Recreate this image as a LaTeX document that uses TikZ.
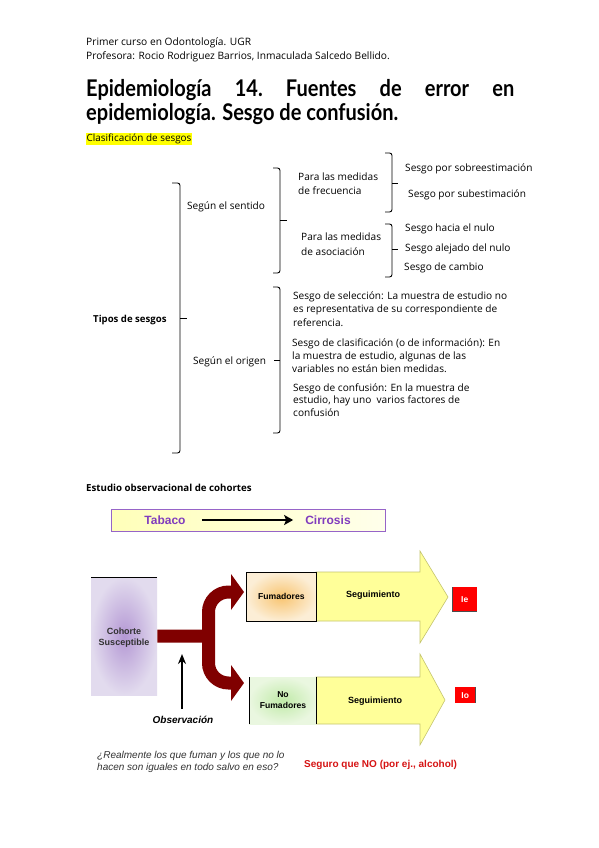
\documentclass[tikz,border=0pt]{standalone}
\usepackage{fontspec}
\usepackage{graphicx}
\setmainfont{Open Sans}
\newfontfamily\titlef{Lato}
\newfontfamily\arialf{Liberation Sans}
\usetikzlibrary{arrows.meta}
\definecolor{maroonb}{RGB}{128,0,0}
\definecolor{purpt}{RGB}{128,60,190}
\definecolor{purpb}{RGB}{150,100,200}
\definecolor{cohin}{RGB}{180,152,212}
\definecolor{cohout}{RGB}{226,219,238}
\definecolor{fumin}{RGB}{248,196,112}
\definecolor{fumout}{RGB}{252,238,214}
\definecolor{nfin}{RGB}{192,234,168}
\definecolor{nfout}{RGB}{234,247,224}
\definecolor{segfill}{RGB}{255,255,153}
\definecolor{segdraw}{RGB}{196,196,110}
\definecolor{redbox}{RGB}{255,0,0}
\definecolor{redtxt}{RGB}{214,20,20}
\definecolor{hl}{RGB}{255,255,0}
\definecolor{qgray}{RGB}{50,50,50}
\newsavebox\titleB
\newlength\tlen
\begin{document}
\sbox\titleB{\titlef\fontsize{23}{26}\selectfont\bfseries epidemiología. Sesgo de confusión.}%
\settowidth\tlen{\usebox\titleB}%
\pgfmathsetmacro\tsx{312pt/\tlen}%
\pgfmathsetlengthmacro\lone{428pt/\tsx}%
\begin{tikzpicture}[x=1pt,y=-1pt,
  txt/.style={anchor=base west, inner sep=0pt, font=\fontsize{10.1}{12}\selectfont},
  hdr/.style={anchor=base west, inner sep=0pt, font=\fontsize{10.2}{12}\selectfont},
  brace/.style={line width=0.9pt, rounded corners=2.5pt},
  ar/.style={font=\arialf\bfseries\fontsize{9}{11}\selectfont, align=center, inner sep=0pt},
  branch/.style={draw=maroonb, line width=13pt},
  segarrow/.style={fill=segfill, draw=segdraw, line width=0.6pt},
  redb/.style={fill=redbox, inner sep=0pt, text=white, font=\arialf\bfseries\fontsize{8.5}{9}\selectfont}]
\useasboundingbox (0,0) rectangle (599,848);
\fill[white] (0,0) rectangle (599,848);
% ---------- header ----------
\node[hdr] (h1) at (86,46) {Primer curso en Odontología. UGR};
\node[hdr] (h2) at (86,60) {Profesora: Rocio Rodriguez Barrios, Inmaculada Salcedo Bellido.};
% ---------- title ----------
\node[anchor=base west, inner sep=0pt] (ti1) at (86,97) {\scalebox{\tsx}[1]{\hbox to \lone{\titlef\fontsize{23}{26}\selectfont\bfseries Epidemiología\hfill 14.\hfill Fuentes\hfill de\hfill error\hfill en}}};
\node[anchor=base west, inner sep=0pt] (ti2) at (86,121) {\scalebox{\tsx}[1]{\usebox\titleB}};
% ---------- classification ----------
\node[anchor=west, fill=hl, inner xsep=0.5pt, inner ysep=0.8pt, text height=8pt, text depth=2.5pt, font=\fontsize{9.9}{11}\selectfont] (clas) at (86,139) {Clasificación de sesgos};
% braces
\draw[brace] (172,183) -| (180,453) -- (172,453);
\draw[line width=0.9pt] (180,318) -- (187,318);
\draw[brace] (273,168) -| (280,273) -- (273,273);
\draw[line width=0.9pt] (280,220) -- (287,220);
\draw[brace] (385,153) -| (392,212) -- (385,212);
\draw[line width=0.9pt] (392,183) -- (398,183);
\draw[brace] (385,224) -| (392,277) -- (385,277);
\draw[line width=0.9pt] (392,249) -- (398,249);
\draw[brace] (273,287) -| (280,433) -- (273,433);
\draw[line width=0.9pt] (280,360) -- (274,360);
% texts
\node[txt, font=\bfseries\fontsize{9.6}{12}\selectfont] (tipos) at (93,322) {Tipos de sesgos};
\node[txt] (sent) at (187,209) {Según el sentido};
\node[txt] (orig) at (193,364) {Según el origen};
\node[txt] (pf1) at (298,180) {Para las medidas};
\node[txt] (pf2) at (298,194) {de frecuencia};
\node[txt] (pa1) at (301,240) {Para las medidas};
\node[txt] (pa2) at (301,255) {de asociación};
\node[txt] (s1) at (405,171) {Sesgo por sobreestimación};
\node[txt] (s2) at (408,197) {Sesgo por subestimación};
\node[txt] (s3) at (405,231) {Sesgo hacia el nulo};
\node[txt] (s4) at (405,251) {Sesgo alejado del nulo};
\node[txt] (s5) at (404,270) {Sesgo de cambio};
\node[txt] (o1) at (293,299) {Sesgo de selección: La muestra de estudio no};
\node[txt] (o2) at (293,312) {es representativa de su correspondiente de};
\node[txt] (o3) at (293,326) {referencia.};
\node[txt] (o4) at (292,346) {Sesgo de clasificación (o de información): En};
\node[txt] (o5) at (292,359) {la muestra de estudio, algunas de las};
\node[txt] (o6) at (292,372) {variables no están bien medidas.};
\node[txt] (o7) at (293,391) {Sesgo de confusión: En la muestra de};
\node[txt] (o8) at (293,403) {estudio, hay uno \ varios factores de};
\node[txt] (o9) at (293,416) {confusión};
% ---------- cohort study ----------
\node[txt, font=\bfseries\fontsize{9.7}{12}\selectfont] (est) at (86,491) {Estudio observacional de cohortes};
\node[anchor=north west, minimum width=274pt, minimum height=22pt, inner sep=0pt, draw=purpb, line width=1pt,
  left color={rgb,255:red,255;green,255;blue,185}, right color={rgb,255:red,255;green,255;blue,235}] (tbox) at (111,509) {};
\node[font=\arialf\bfseries\fontsize{12}{14}\selectfont, text=purpt, inner sep=0pt] (tab) at (165,520) {Tabaco};
\node[font=\arialf\bfseries\fontsize{12}{14}\selectfont, text=purpt, inner sep=0pt] (cir) at (328,520) {Cirrosis};
\draw[line width=2.4pt, -{Stealth[length=9pt,width=10pt,inset=2pt]}, shorten <=16pt, shorten >=12pt] (tab) -- (cir);
% cohort box
\node[anchor=north west, minimum width=66pt, minimum height=118pt, inner sep=0pt, inner color=cohin, outer color=cohout] (coh) at (91,577) {};
\draw[line width=1pt] (coh.north west) -- (coh.north east);
\node[ar, text=qgray] (cohl) at (124,638) {Cohorte\\Susceptible};
% branch
\coordinate (j) at (208.5,636);
\coordinate (hu) at (231.5,592);
\coordinate (hl) at (231.5,683);
\draw[branch] (coh.east) -- (j);
\draw[branch, rounded corners=20pt] (hu) -| (j) |- (hl);
\fill[maroonb] (231,574) -- (244,592) -- (231,610) -- cycle;
\fill[maroonb] (231,665) -- (244,683) -- (231,701) -- cycle;
% big arrows
\filldraw[segarrow] (316,572) -- (420,572) -- (420,551) -- (448,597) -- (420,643) -- (420,621) -- (316,621) -- cycle;
\filldraw[segarrow] (316,677) -- (420,677) -- (420,654) -- (445,700) -- (420,745) -- (420,724) -- (316,724) -- cycle;
\node[ar] (seg1) at (373,595) {Seguimiento};
\node[ar] (seg2) at (375,701) {Seguimiento};
% fumadores boxes
\node[anchor=north west, minimum width=70pt, minimum height=49pt, inner sep=0pt, inner color=fumin, outer color=fumout, draw=black, line width=0.8pt] (fum) at (246,572) {};
\node[ar, font=\arialf\bfseries\fontsize{8.6}{11}\selectfont] (fuml) at (fum) {Fumadores};
\node[anchor=north west, minimum width=67pt, minimum height=47pt, inner sep=0pt, inner color=nfin, outer color=nfout] (nofum) at (249,677) {};
\draw[line width=0.8pt] (nofum.north west) -- (nofum.south west);
\draw[line width=0.8pt] (nofum.north east) -- (nofum.south east);
\node[ar, font=\arialf\bfseries\fontsize{8.6}{11}\selectfont] (nofuml) at (283,700) {No\\Fumadores};
% red boxes
\node[redb, anchor=north west, minimum width=25pt, minimum height=24pt] (ie) at (452,587) {Ie};
\draw[line width=1pt, black!70] (ie.north west) -- (ie.south west) -- (ie.south east);
\node[redb, anchor=north west, minimum width=20pt, minimum height=16pt] (io) at (455,687) {Io};
\draw[line width=1pt, black!70] (io.north east) -- (io.south east);
% observacion
\node[font=\arialf\bfseries\itshape\fontsize{10}{12}\selectfont, inner sep=0pt] (obs) at (183,720) {Observación};
\coordinate (obstip) at (182,654);
\draw[line width=1.8pt, -{Stealth[length=10pt,width=8pt]}] (obs.north -| obstip) ++(0,-7) -- (obstip);
% bottom texts
\node[anchor=base west, inner sep=0pt, text=qgray, font=\arialf\itshape\fontsize{10}{12}\selectfont] (q1) at (97,758.5) {¿Realmente los que fuman y los que no lo};
\node[anchor=base west, inner sep=0pt, text=qgray, font=\arialf\itshape\fontsize{10}{12}\selectfont] (q2) at (97,770.5) {hacen son iguales en todo salvo en eso?};
\node[anchor=base west, inner sep=0pt, text=redtxt, font=\arialf\bfseries\fontsize{10}{12}\selectfont] (ans) at (304,767.5) {Seguro que NO (por ej., alcohol)};
\end{tikzpicture}
\end{document}
